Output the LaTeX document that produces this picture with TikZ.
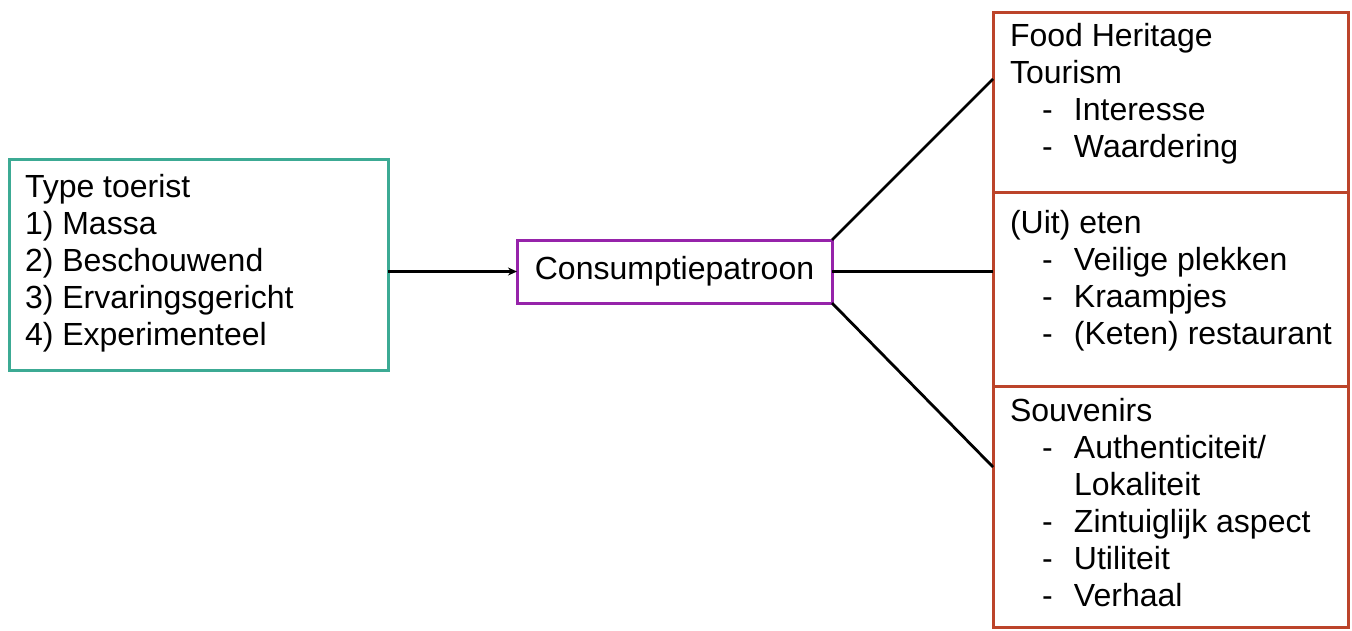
\documentclass[tikz,border=0pt]{standalone}
\usepackage{fontspec}
\setmainfont{Liberation Sans}
\usetikzlibrary{arrows.meta}
\definecolor{tealbox}{RGB}{60,170,148}
\definecolor{purplebox}{RGB}{150,35,170}
\definecolor{redbox}{RGB}{188,68,42}
\newcommand\itm{\hspace*{32pt}-\hspace*{21.3pt}}
\newcommand\cont{\hspace*{64pt}}
\begin{document}
\begin{tikzpicture}[x=1pt,y=-1pt,
  box/.style={draw=#1,line width=3pt,rectangle,inner sep=0pt,outer sep=0pt},
  txt/.style={font=\fontsize{32}{37}\selectfont,inner sep=0pt,outer sep=0pt,align=left,anchor=north west},
  conn/.style={line width=2.8pt,black}]
\useasboundingbox[fill=white] (0,0) rectangle (1352,630);
% boxes
\node[box=tealbox,minimum width=379pt,minimum height=211pt] (lb) at (198.5,264.5) {};
\node[box=purplebox,minimum width=315pt,minimum height=63pt,font=\fontsize{32}{37}\selectfont] (cp) at (674.5,271.5) {Consumptiepatroon};
\node[box=redbox,minimum width=355pt,minimum height=180.7pt] (s1) at (1170.5,102.35) {};
\node[box=redbox,minimum width=355pt,minimum height=194pt] (s2) at (1170.5,289.7) {};
\node[box=redbox,minimum width=355pt,minimum height=240.3pt] (s3) at (1170.5,506.85) {};
% texts
\node[txt] (lbt) at (25,171.1) {\strut Type toerist\\1) Massa\\2) Beschouwend\\3) Ervaringsgericht\\4) Experimenteel};
\node[txt] (s1t) at (1010,20.8) {\strut Food Heritage\\Tourism\\\itm Interesse\\\itm Waardering};
\node[txt] (s2t) at (1010,207.1) {\strut (Uit) eten\\\itm Veilige plekken\\\itm Kraampjes\\\itm (Keten) restaurant};
\node[txt] (s3t) at (1010,395.1) {\strut Souvenirs\\\itm Authenticiteit/\\\cont Lokaliteit\\\itm Zintuiglijk aspect\\\itm Utiliteit\\\itm Verhaal};
% connector ends
\coordinate (e1) at (993,79);
\coordinate (e2) at (993,271.5);
\coordinate (e3) at (993,467);
% connectors
\draw[conn,-{Stealth[length=9pt,width=8pt]}] (lb.east |- cp.west) -- (cp.west);
\draw[conn] (cp.north east) -- (e1);
\draw[conn] (cp.east) -- (e2);
\draw[conn] (cp.south east) -- (e3);
\end{tikzpicture}
\end{document}
